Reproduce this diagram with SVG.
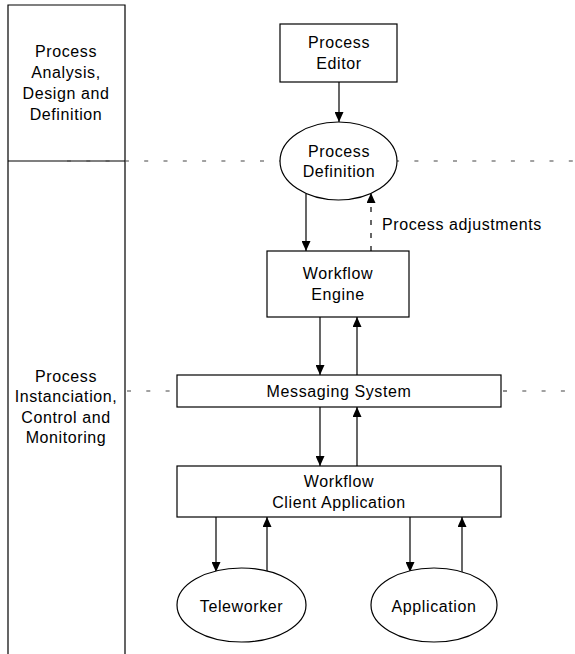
<svg xmlns="http://www.w3.org/2000/svg" width="575" height="654" viewBox="0 0 575 654">
<style>
text{font-family:"Liberation Sans",Arial,sans-serif;font-size:16px;letter-spacing:0.6px;fill:#000;text-anchor:middle}
.ln{stroke:#000;stroke-width:1.2;fill:none}
.shape{stroke:#000;stroke-width:1.2;fill:#fff}
.dash{stroke:#444;stroke-width:1.2;stroke-dasharray:4 15.3;fill:none}
.arr{stroke:#000;stroke-width:1.2;fill:none;marker-end:url(#ah)}
</style>
<defs>
<marker id="ah" viewBox="0 0 10 9" refX="10" refY="4.5" markerWidth="10" markerHeight="9" markerUnits="userSpaceOnUse" orient="auto">
<path d="M0,0 L10,4.5 L0,9 z" fill="#000"/>
</marker>
</defs>
<g id="phases">
<path class="ln" d="M8,654 V5 H125 V654 M8,161 H125"/>
<text x="66" y="57">Process</text>
<text x="66" y="78">Analysis,</text>
<text x="66" y="99">Design and</text>
<text x="66" y="120">Definition</text>
<text x="66" y="382">Process</text>
<text x="66" y="402">Instanciation,</text>
<text x="66" y="423">Control and</text>
<text x="66" y="443">Monitoring</text>
</g>
<g id="separators">
<line class="dash" x1="67" y1="161" x2="575" y2="161"/>
<line class="dash" x1="127" y1="391" x2="177" y2="391"/>
<line class="dash" x1="503" y1="391" x2="575" y2="391"/>
</g>
<g id="connectors">
<line class="arr" x1="339" y1="82" x2="339" y2="122"/>
<line class="arr" x1="306" y1="194" x2="306" y2="251"/>
<line class="arr" x1="371" y1="251" x2="371" y2="193" stroke-dasharray="5 8"/>
<line class="arr" x1="320" y1="317" x2="320" y2="375"/>
<line class="arr" x1="357" y1="375" x2="357" y2="317"/>
<line class="arr" x1="320" y1="407" x2="320" y2="466"/>
<line class="arr" x1="357" y1="466" x2="357" y2="407"/>
<line class="arr" x1="216" y1="517" x2="216" y2="572"/>
<line class="arr" x1="267" y1="572" x2="267" y2="517"/>
<line class="arr" x1="410" y1="517" x2="410" y2="572"/>
<line class="arr" x1="462" y1="573" x2="462" y2="517"/>
<text x="382" y="230" style="text-anchor:start">Process adjustments</text>
</g>
<g id="process-editor">
<rect class="shape" x="280" y="24" width="117" height="58"/>
<text x="339" y="48">Process</text>
<text x="339" y="69">Editor</text>
</g>
<g id="process-definition">
<ellipse class="shape" cx="338.5" cy="161" rx="58.5" ry="39"/>
<text x="339" y="157">Process</text>
<text x="339" y="177">Definition</text>
</g>
<g id="workflow-engine">
<rect class="shape" x="267" y="251" width="142" height="66"/>
<text x="338" y="279">Workflow</text>
<text x="338" y="300">Engine</text>
</g>
<g id="messaging-system">
<rect class="shape" x="177" y="375" width="324" height="32"/>
<text x="339" y="397">Messaging System</text>
</g>
<g id="workflow-client">
<rect class="shape" x="177" y="466" width="324" height="51"/>
<text x="339" y="487">Workflow</text>
<text x="339" y="508">Client Application</text>
</g>
<g id="teleworker">
<ellipse class="shape" cx="241.5" cy="605" rx="64.5" ry="37"/>
<text x="241.5" y="612">Teleworker</text>
</g>
<g id="application">
<ellipse class="shape" cx="434" cy="605" rx="63" ry="37"/>
<text x="434" y="612">Application</text>
</g>
</svg>
